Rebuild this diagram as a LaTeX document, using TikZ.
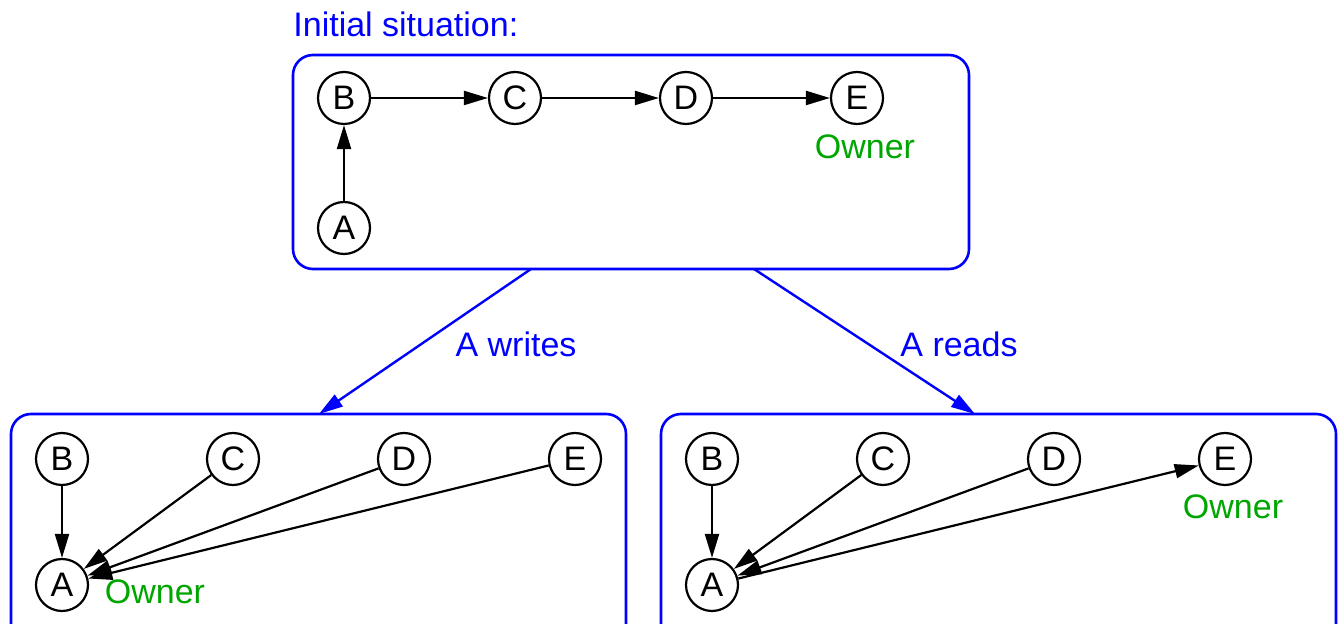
\documentclass[tikz,border=0pt]{standalone}
\usepackage{fontspec}
\setmainfont{Liberation Sans}
\usetikzlibrary{arrows.meta}
\tikzset{
  proc/.style={circle,draw,line width=1.1pt,minimum size=26pt,inner sep=0pt},
  grp/.style={draw=blue,line width=1.3pt,rounded corners=10pt,rectangle,inner sep=0pt},
  own/.style={text=green!65!black},
  dep/.style={line width=1.1pt,-{Triangle[length=12pt,width=7pt]}},
  trans/.style={blue,line width=1.2pt,-{Triangle[length=12pt,width=7pt]}},
}
\begin{document}
\begin{tikzpicture}[x=0.5pt,y=-0.5pt,font=\fontsize{17}{20}\selectfont]
  \clip (0,0) rectangle (1344,624);
  %gruppi
  \node[grp,minimum width=338pt,minimum height=107pt] (top) at (631,162) {};
  \node[grp,minimum width=307.5pt,minimum height=120pt] (wl) at (318.5,534) {};
  \node[grp,minimum width=337.5pt,minimum height=120pt] (wr) at (998.5,534) {};
  \node[blue,anchor=base west,inner sep=0pt] (init) at (293,37) {Initial situation:};
  %situazione iniziale
  \node[proc] (tB) at (344,98) {B};
  \node[proc] (tC) at (515,98) {C};
  \node[proc] (tD) at (686,98) {D};
  \node[proc] (tE) at (857,98) {E};
  \node[proc] (tA) at (344,228) {A};
  \node[own] (tO) at (865,147) {Owner};
  \draw[dep] (tA) -- (tB);
  \draw[dep] (tB) -- (tC);
  \draw[dep] (tC) -- (tD);
  \draw[dep] (tD) -- (tE);
  %scrittura
  \node[proc] (lB) at (62,459) {B};
  \node[proc] (lC) at (233,459) {C};
  \node[proc] (lD) at (404,459) {D};
  \node[proc] (lE) at (575,459) {E};
  \node[proc] (lA) at (62,585) {A};
  \node[own] (lO) at (155,592) {Owner};
  \foreach \n in {lB,lC,lD,lE} \draw[dep] (\n) -- (lA);
  %lettura
  \node[proc] (rB) at (712,459) {B};
  \node[proc] (rC) at (883,459) {C};
  \node[proc] (rD) at (1054,459) {D};
  \node[proc] (rE) at (1225,459) {E};
  \node[proc] (rA) at (712,585) {A};
  \node[own] (rO) at (1233,507) {Owner};
  \foreach \n in {rB,rC,rD} \draw[dep] (\n) -- (rA);
  \draw[dep] (rA) -- (rE);
  %transizioni
  \coordinate (w1) at (531,269);
  \coordinate (w2) at (319,414);
  \coordinate (r1) at (754,269);
  \coordinate (r2) at (975,414);
  \draw[trans] (w1) -- (w2);
  \draw[trans] (r1) -- (r2);
  \node[blue] (lw) at (516,344) {A writes};
  \node[blue] (lr) at (959,344) {A reads};
\end{tikzpicture}
\end{document}
